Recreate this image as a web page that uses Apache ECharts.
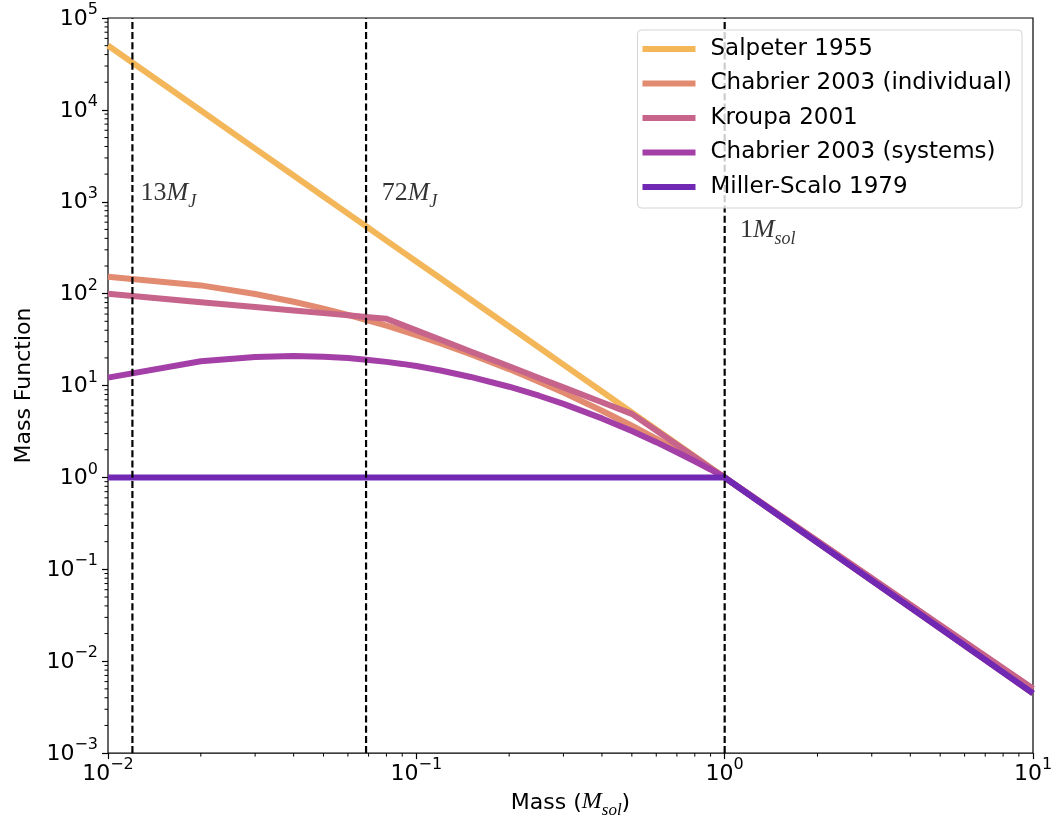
<!DOCTYPE html>
<html>
<head>
<meta charset="utf-8">
<script src="https://cdn.jsdelivr.net/npm/echarts@6/dist/echarts.min.js"></script>
<style>
  html, body { margin: 0; padding: 0; background: #fff; }
  #chart { width: 1057px; height: 824px; }
</style>
</head>
<body>
<div id="chart"></div>
<script>
// mass grid (M_sol) the curves are sampled at
const masses = [0.01, 0.02, 0.03, 0.04, 0.05, 0.06, 0.07, 0.08, 0.09, 0.1, 0.12, 0.15,
  0.2, 0.25, 0.3, 0.4, 0.5, 0.6, 0.7, 0.8, 0.9, 1, 2, 5, 10];

const salpeter = [50119, 9836, 3787, 1930, 1141, 743, 518, 378, 287, 224, 146, 86.3,
  43.9, 26.0, 16.9, 8.61, 5.10, 3.32, 2.31, 1.69, 1.28, 1, 0.196, 0.0228, 0.00447];
const chabrierIndividual = [153, 123, 99.1, 81.6, 68.7, 58.8, 51.0, 44.8, 39.7, 35.4, 28.8, 22.0,
  15.1, 11.0, 8.39, 5.32, 3.65, 2.65, 1.99, 1.55, 1.23, 1, 0.203, 0.0247, 0.00501];
const kroupa = [99.5, 80.8, 71.5, 65.6, 61.4, 58.1, 55.5, 53.3, 45.7, 39.9, 31.5, 23.5,
  16.2, 12.1, 9.56, 6.57, 4.92, 3.24, 2.27, 1.67, 1.27, 1, 0.203, 0.0247, 0.00501];
const chabrierSystems = [12.2, 18.4, 20.5, 21.0, 20.6, 19.9, 19.0, 18.1, 17.2, 16.3, 14.6, 12.4,
  9.71, 7.75, 6.31, 4.39, 3.20, 2.42, 1.88, 1.50, 1.22, 1, 0.196, 0.0228, 0.00447];
const millerScalo = [1, 1, 1, 1, 1, 1, 1, 1, 1, 1, 1, 1,
  1, 1, 1, 1, 1, 1, 1, 1, 1, 1, 0.196, 0.0228, 0.00447];

const seriesNames = ['Salpeter 1955', 'Chabrier 2003 (individual)', 'Kroupa 2001',
  'Chabrier 2003 (systems)', 'Miller-Scalo 1979'];
const seriesValues = [salpeter, chabrierIndividual, kroupa, chabrierSystems, millerScalo];
const seriesColors = ['#f3b75a', '#e38b70', '#c7648b', '#a33fa6', '#7128b2'];

// reference masses: 13 M_J, 72 M_J, 1 M_sol
const markerMasses = [0.012, 0.0687, 1];
const markerLabelMass = [0.0128, 0.0775, 1.125];
const markerLabelValue = [1000, 1000, 400];
const markerNumbers = ['13', '72', '1'];
const markerSubscripts = ['J', 'J', 'sol'];

const xMin = 0.01, xMax = 10;
const yMin = 1e-3, yMax = 1e5;
const minorMultipliers = [2, 3, 4, 5, 6, 7, 8, 9];

const SANS = '"DejaVu Sans", sans-serif';
const SERIF = '"Liberation Serif", "DejaVu Serif", serif';

const decadeTicks = (lo, hi) => {
  const out = [];
  for (let e = Math.round(Math.log10(lo)); e < Math.round(Math.log10(hi)); e++) {
    minorMultipliers.forEach((k) => out.push(k * Math.pow(10, e)));
  }
  return out;
};

const powerLabel = (value) => {
  const e = Math.round(Math.log10(value));
  return '{b|10}{s|' + String(e).replace('-', '\u2212') + '}';
};

const powerRich = {
  b: { fontFamily: SANS, fontSize: 22, lineHeight: 24, color: '#000', verticalAlign: 'bottom' },
  s: { fontFamily: SANS, fontSize: 16, lineHeight: 16, color: '#000', verticalAlign: 'bottom', padding: [0, 0, 12, 0] },
};

const minorTickSeries = (axis, values) => ({
  type: 'custom',
  name: axis + '-minor',
  silent: true,
  clip: false,
  z: 6,
  data: values.map((v) => (axis === 'x' ? [v, yMin] : [xMin, v])),
  renderItem: (params, api) => {
    const p = api.coord([api.value(0), api.value(1)]);
    const shape = axis === 'x'
      ? { x1: p[0], y1: p[1], x2: p[0], y2: p[1] + 3.5 }
      : { x1: p[0] - 3.5, y1: p[1], x2: p[0], y2: p[1] };
    return { type: 'line', shape: shape, style: { stroke: '#000', lineWidth: 1 } };
  },
});

const lineSeries = seriesNames.map((name, i) => ({
  type: 'line',
  name: name,
  data: masses.map((m, j) => [m, seriesValues[i][j]]),
  showSymbol: false,
  symbol: 'none',
  z: 2 + i * 0.01,
  color: seriesColors[i],
  lineStyle: { color: seriesColors[i], width: 6, cap: 'butt', join: 'round' },
  itemStyle: { color: seriesColors[i] },
  emphasis: { disabled: true },
}));

// dashed vertical reference lines at the marker masses
const markerSeries = markerMasses.map((m, i) => ({
  type: 'line',
  name: 'marker-' + i,
  data: [[m, yMin], [m, yMax]],
  showSymbol: false,
  symbol: 'none',
  silent: true,
  z: 3,
  lineStyle: { color: '#000', width: 2.2, type: [7, 3.2], cap: 'butt' },
  emphasis: { disabled: true },
}));

const labelSeries = {
  type: 'scatter',
  name: 'marker-labels',
  silent: true,
  symbolSize: 1,
  itemStyle: { color: 'rgba(0,0,0,0)' },
  z: 5,
  data: markerLabelMass.map((m, i) => [m, markerLabelValue[i], i]),
  label: {
    show: true,
    position: [0, 0],
    align: 'left',
    verticalAlign: 'bottom',
    offset: [0, 10],
    formatter: (p) => '{n|' + markerNumbers[p.value[2]] + '}{m|M}{s|' + markerSubscripts[p.value[2]] + '}',
    rich: {
      n: { fontFamily: SERIF, fontSize: 26, lineHeight: 28, color: '#000', verticalAlign: 'bottom', padding: [0, 0, 5, 0] },
      m: { fontFamily: SERIF, fontStyle: 'italic', fontSize: 26, lineHeight: 28, color: '#000', verticalAlign: 'bottom', padding: [0, 0, 5, 0] },
      s: { fontFamily: SERIF, fontStyle: 'italic', fontSize: 18, lineHeight: 20, color: '#000', verticalAlign: 'bottom' },
    },
  },
};

const chart = echarts.init(document.getElementById('chart'), null, { renderer: 'canvas' });

chart.setOption({
  animation: false,
  backgroundColor: '#fff',
  grid: {
    left: 108, right: 24, top: 18, bottom: 69,
    show: true, borderColor: '#000', borderWidth: 1.2, backgroundColor: 'transparent',
  },
  legend: {
    data: seriesNames,
    orient: 'vertical',
    right: 35,
    top: 30,
    icon: 'rect',
    itemWidth: 53,
    itemHeight: 6,
    itemGap: 8.5,
    padding: [6, 10, 8, 5],
    backgroundColor: 'rgba(255,255,255,0.8)',
    borderColor: '#d4d4d4',
    borderWidth: 1,
    borderRadius: 4,
    selectedMode: false,
    textStyle: { fontFamily: SANS, fontSize: 23, lineHeight: 26, color: '#000', padding: [0, 0, 0, 10] },
  },
  xAxis: {
    type: 'log',
    min: xMin,
    max: xMax,
    logBase: 10,
    name: '{a|Mass (}{m|M}{s|sol}{a|)}',
    nameLocation: 'middle',
    nameGap: 36,
    nameTextStyle: {
      rich: {
        a: { fontFamily: SANS, fontSize: 22, lineHeight: 26, color: '#000', verticalAlign: 'bottom', padding: [0, 0, 5, 0] },
        m: { fontFamily: SERIF, fontStyle: 'italic', fontSize: 24, lineHeight: 26, color: '#000', verticalAlign: 'bottom', padding: [0, 0, 5, 0] },
        s: { fontFamily: SERIF, fontStyle: 'italic', fontSize: 17, lineHeight: 18, color: '#000', verticalAlign: 'bottom' },
      },
    },
    axisLine: { show: false },
    axisTick: { show: true, length: 6, lineStyle: { color: '#000', width: 1.2 } },
    axisLabel: { margin: 8, formatter: powerLabel, rich: powerRich },
    splitLine: { show: false },
  },
  yAxis: {
    type: 'log',
    min: yMin,
    max: yMax,
    logBase: 10,
    name: 'Mass Function',
    nameLocation: 'middle',
    nameGap: 65,
    nameTextStyle: { fontFamily: SANS, fontSize: 22, color: '#000' },
    axisLine: { show: false },
    axisTick: { show: true, length: 6, lineStyle: { color: '#000', width: 1.2 } },
    axisLabel: { margin: 10, formatter: powerLabel, rich: powerRich },
    splitLine: { show: false },
  },
  series: [
    ...lineSeries,
    ...markerSeries,
    labelSeries,
    minorTickSeries('x', decadeTicks(xMin, xMax)),
    minorTickSeries('y', decadeTicks(yMin, yMax)),
  ],
});
</script>
</body>
</html>
